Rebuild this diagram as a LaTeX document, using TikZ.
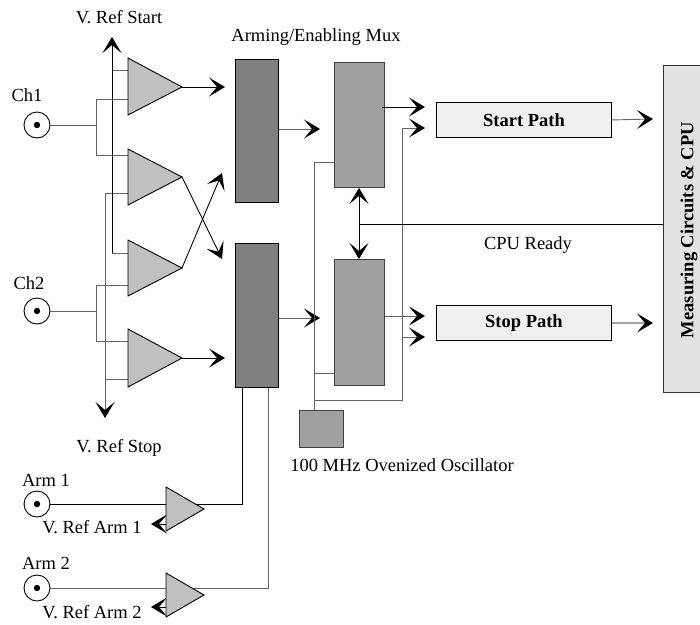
\documentclass[tikz,border=0pt]{standalone}
\usepackage{fontspec}
\setmainfont{Liberation Serif}
\usetikzlibrary{arrows.meta}
\definecolor{lgray}{RGB}{100,100,100}
\definecolor{muxfill}{RGB}{128,128,128}
\definecolor{selfill}{RGB}{160,160,160}
\definecolor{ampfill}{RGB}{192,192,192}
\definecolor{pathfill}{RGB}{240,240,240}
\definecolor{measfill}{RGB}{226,226,226}
\begin{document}
\begin{tikzpicture}[x=1pt,y=-1pt,
  font=\fontsize{18.5}{21}\selectfont,
  wire/.style={line width=0.9pt,black},
  gwire/.style={line width=0.9pt,lgray},
  tip/.tip={Stealth[length=16pt,width=19pt,inset=8pt,color=black]},
  arr/.style={-tip},
  amp/.style={fill=ampfill,draw=black,line width=0.9pt,line join=miter},
  box/.style={draw=black,line width=0.9pt,inner sep=0pt,anchor=north west},
  muxbox/.style={box,fill=muxfill},
  selbox/.style={box,fill=selfill,draw=black!75},
  pathbox/.style={box,fill=pathfill,font=\fontsize{18.5}{21}\selectfont\bfseries},
  lbl/.style={inner sep=0pt}
]
\useasboundingbox (0,0) rectangle (700,624);

% ---------- boxes ----------
\node[muxbox,minimum width=43pt,minimum height=143pt] (mux1) at (235,59) {};
\node[muxbox,minimum width=43pt,minimum height=144pt] (mux2) at (235,243) {};
\node[selbox,minimum width=50pt,minimum height=125pt] (sel1) at (334,62) {};
\node[selbox,minimum width=50pt,minimum height=126pt] (sel2) at (334,259) {};
\node[selbox,minimum width=44pt,minimum height=37pt] (osc) at (299,410) {};
\node[pathbox,minimum width=175pt,minimum height=35pt] (start) at (436,102) {Start Path};
\node[pathbox,minimum width=175pt,minimum height=35pt] (stop) at (436,305) {Stop Path};
\node[box,fill=measfill,draw=black!80,minimum width=45pt,minimum height=327pt] (meas) at (663,65) {};
\node[lbl,rotate=90,font=\fontsize{18.5}{21}\selectfont\bfseries] (meastxt) at (689,230) {Measuring Circuits \& CPU};

% ---------- labels ----------
\node[lbl] (vrs) at (119,17) {V. Ref Start};
\node[lbl] (vrstop) at (119,448) {V. Ref Stop};
\node[lbl] (armmux) at (316,37) {Arming/Enabling Mux};
\node[lbl] (ch1) at (27,95) {Ch1};
\node[lbl] (ch2) at (29,283) {Ch2};
\node[lbl] (arm1) at (46,480) {Arm 1};
\node[lbl] (arm2) at (46,563) {Arm 2};
\node[lbl] (vra1) at (92,527) {V. Ref Arm 1};
\node[lbl] (vra2) at (92,612) {V. Ref Arm 2};
\node[lbl] (cpur) at (528,245) {CPU Ready};
\node[lbl] (osct) at (402,465) {100 MHz Ovenized Oscillator};

% ---------- connectors (circles) ----------
\foreach \n/\y in {c1/125,c2/311,c3/504,c4/588}{
  \node[circle,draw=black,line width=0.9pt,minimum size=26pt,inner sep=0pt] (\n) at (37,\y) {};
  \fill (\n.center) circle (3.2pt);
}

% ---------- wiring Ch1 / Ch2 ----------
\coordinate (vstarttop) at (112,37);
\coordinate (vstopbot) at (105,418);
\draw[gwire] (c1.east) -- (96,125);
\draw[gwire] (96,99) -- (96,155);
\draw[gwire] (96,99) -- (128,99);
\draw[gwire] (96,155) -- (128,155);
\draw[gwire] (c2.east) -- (96,311);
\draw[gwire] (96,285) -- (96,341);
\draw[gwire] (96,285) -- (128,285);
\draw[gwire] (96,341) -- (128,341);
\draw[gwire] (112,70) -- (128,70);
\draw[gwire] (112,253) -- (128,253);
\draw[gwire] (105,193) -- (128,193);
\draw[gwire] (105,379) -- (128,379);
\draw[wire,arr] (112,253) -- (vstarttop);
\draw[gwire,arr] (105,193) -- (vstopbot);

% ---------- amplifiers ----------
\filldraw[amp] (128,58) -- (182,87) coordinate (t1) -- (128,115) -- cycle;
\filldraw[amp] (128,149) -- (182,177) coordinate (t2) -- (128,205) -- cycle;
\filldraw[amp] (128,240) -- (182,268) coordinate (t3) -- (128,296) -- cycle;
\filldraw[amp] (128,329) -- (182,358) coordinate (t4) -- (128,387) -- cycle;

\coordinate (m1a) at (225,87);
\coordinate (m1b) at (222,173);
\coordinate (m2a) at (222,259);
\coordinate (m2b) at (225,358);
\draw[wire,arr] (t1) -- (m1a);
\draw[wire,arr] (t2) -- (m2a);
\draw[wire,arr] (t3) -- (m1b);
\draw[wire,arr] (t4) -- (m2b);

% ---------- arm inputs ----------
\draw[wire] (c3.east) -- (242,504) -- (242,387);
\draw[gwire] (c4.east) -- (268,588) -- (268,388);
\draw[wire,arr] (166,524) -- (151,524);
\draw[wire,arr] (166,607) -- (151,607);
\filldraw[amp] (166,487) -- (204,509) -- (166,531) -- cycle;
\filldraw[amp] (166,573) -- (204,595) -- (166,617) -- cycle;

% ---------- mux outputs ----------
\draw[gwire,arr] (mux1.east |- 0,129) -- (320,129);
\draw[gwire,arr] (mux2.east |- 0,318) -- (320,318);

% ---------- oscillator distribution ----------
\draw[gwire] (sel1.west |- 0,162) -- (314,162) -- (osc.north -| 314,0);
\draw[gwire] (314,373) -- (sel2.west |- 0,373);
\draw[gwire,arr] (314,400) -- (402,400) -- (402,128) -- (425,128);
\draw[gwire,arr] (402,337) -- (425,337);

% ---------- selector outputs ----------
\draw[wire,arr] (382,107) -- (425,107);
\draw[gwire,arr] (sel2.east |- 0,316) -- (425,316);

% ---------- path outputs ----------
\draw[gwire,arr] (start.east) -- (653,119);
\draw[wire,arr] (stop.east) -- (653,323);

% ---------- CPU ready ----------
\draw[wire] (meas.west |- 0,224) -- (359,224);
\draw[wire,tip-tip] (sel1.south -| 359,0) -- (sel2.north -| 359,0);
\end{tikzpicture}
\end{document}
